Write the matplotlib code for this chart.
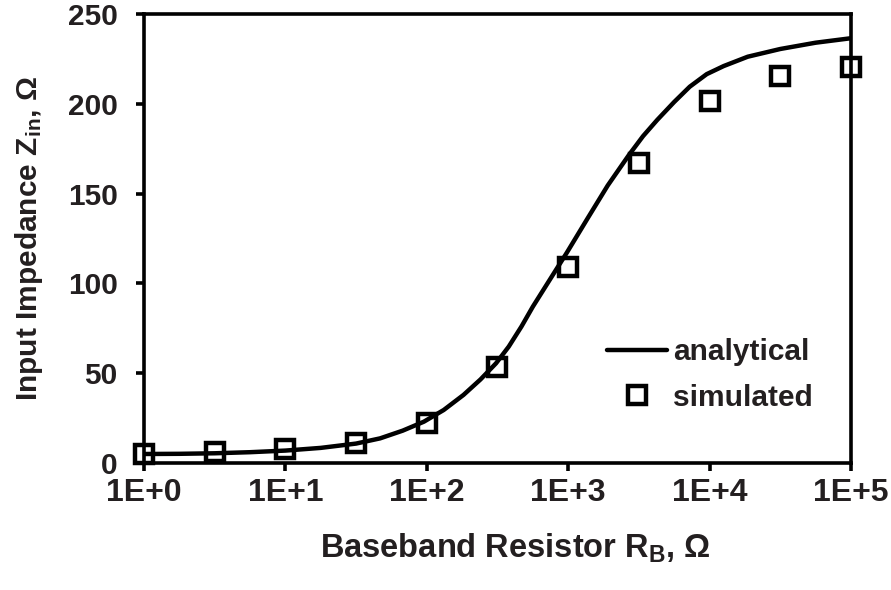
import matplotlib
matplotlib.use("Agg")
import matplotlib.pyplot as plt

plt.rcParams['font.family'] = ['Liberation Sans', 'DejaVu Sans']
plt.rcParams['font.weight'] = 'bold'
plt.rcParams['mathtext.fontset'] = 'custom'
plt.rcParams['mathtext.rm'] = 'Liberation Sans:bold'
plt.rcParams['mathtext.it'] = 'Liberation Sans:bold'
plt.rcParams['mathtext.bf'] = 'Liberation Sans:bold'
plt.rcParams['mathtext.default'] = 'rm'

# Analytical curve (log10 of R_B, Z_in in ohm)
analytical_logR = [0, 0.25, 0.5, 0.75, 1.0, 1.25, 1.5, 1.67, 1.83, 1.98, 2.12,
                   2.26, 2.38, 2.49, 2.58, 2.67, 2.75, 2.87, 2.99, 3.14, 3.28, 3.43,
                   3.53, 3.63, 3.75, 3.86, 3.98, 4.1, 4.27, 4.5, 4.75, 5.0]
analytical_Z = [5.0, 5.1, 5.4, 6.0, 6.9, 8.4, 10.8, 13.7, 18.0, 23.0, 29.5,
                37.9, 46.5, 55.5, 64.8, 76.0, 87.0, 102.0, 117.0, 136.5, 154.5, 171.5,
                182.0, 191.0, 201.0, 209.5, 216.5, 221.0, 226.2, 230.5, 234.0, 236.5]

# Simulated points at half-decade steps
simulated_R = [1, 3.162, 10, 31.62, 100, 316.2, 1000, 3162, 10000, 31623, 100000]
simulated_Z = [4.8, 6.0, 7.8, 11.3, 22.5, 53.2, 109.2, 167.0, 201.6, 215.7, 220.4]

xtick_vals = [1, 10, 100, 1000, 10000, 100000]
xtick_labels = ['1E+0', '1E+1', '1E+2', '1E+3', '1E+4', '1E+5']
ytick_vals = [0, 50, 100, 150, 200, 250]

TXT = '#231f20'
fig = plt.figure(figsize=(8.91, 5.90), dpi=100)
ax = fig.add_axes([0.1616, 0.2153, 0.955 - 0.1616, 0.9763 - 0.2153])

analytical_R = [10 ** v for v in analytical_logR]
ax.plot(analytical_R, analytical_Z, color='black', lw=3.2, solid_capstyle='round',
        solid_joinstyle='round', label='analytical', zorder=3)
ax.plot(simulated_R, simulated_Z, linestyle='none', marker='s', markersize=13,
        markerfacecolor='none', markeredgecolor='black', markeredgewidth=3.2,
        label='simulated', zorder=4, clip_on=False)

ax.set_xscale('log')
ax.set_xlim(1, 100000)
ax.set_ylim(0, 250)
ax.set_xticks(xtick_vals)
ax.set_xticklabels(xtick_labels)
ax.xaxis.set_minor_locator(matplotlib.ticker.NullLocator())
ax.set_yticks(ytick_vals)

for s in ax.spines.values():
    s.set_linewidth(2.6)
ax.tick_params(axis='both', direction='out', length=6, width=2.6, colors='black')
ax.tick_params(axis='x', pad=5, labelsize=23)
ax.tick_params(axis='y', pad=13, labelsize=21.5)
for lab in ax.get_xticklabels() + ax.get_yticklabels():
    lab.set_color(TXT)
    lab.set_fontweight('bold')

ax.set_xlabel('Baseband Resistor R$_{B}$, Ω', fontsize=23.5, fontweight='bold',
              color=TXT)
ax.xaxis.set_label_coords(0.525, -0.152)
ax.set_ylabel('Input Impedance Z$_{in}$, Ω', fontsize=21.5, fontweight='bold',
              color=TXT)
ax.yaxis.set_label_coords(-0.14, 0.5)

leg = ax.legend(loc='upper left', bbox_to_anchor=(607 / 891, 1 - 330 / 590 - 8 / 590),
                bbox_transform=fig.transFigure, frameon=False, borderpad=0,
                borderaxespad=0, fontsize=21.5, handlelength=2.0,
                handletextpad=0.2, labelspacing=0.6)
for t in leg.get_texts():
    t.set_color(TXT)

fig.savefig('out.png', dpi=100)
